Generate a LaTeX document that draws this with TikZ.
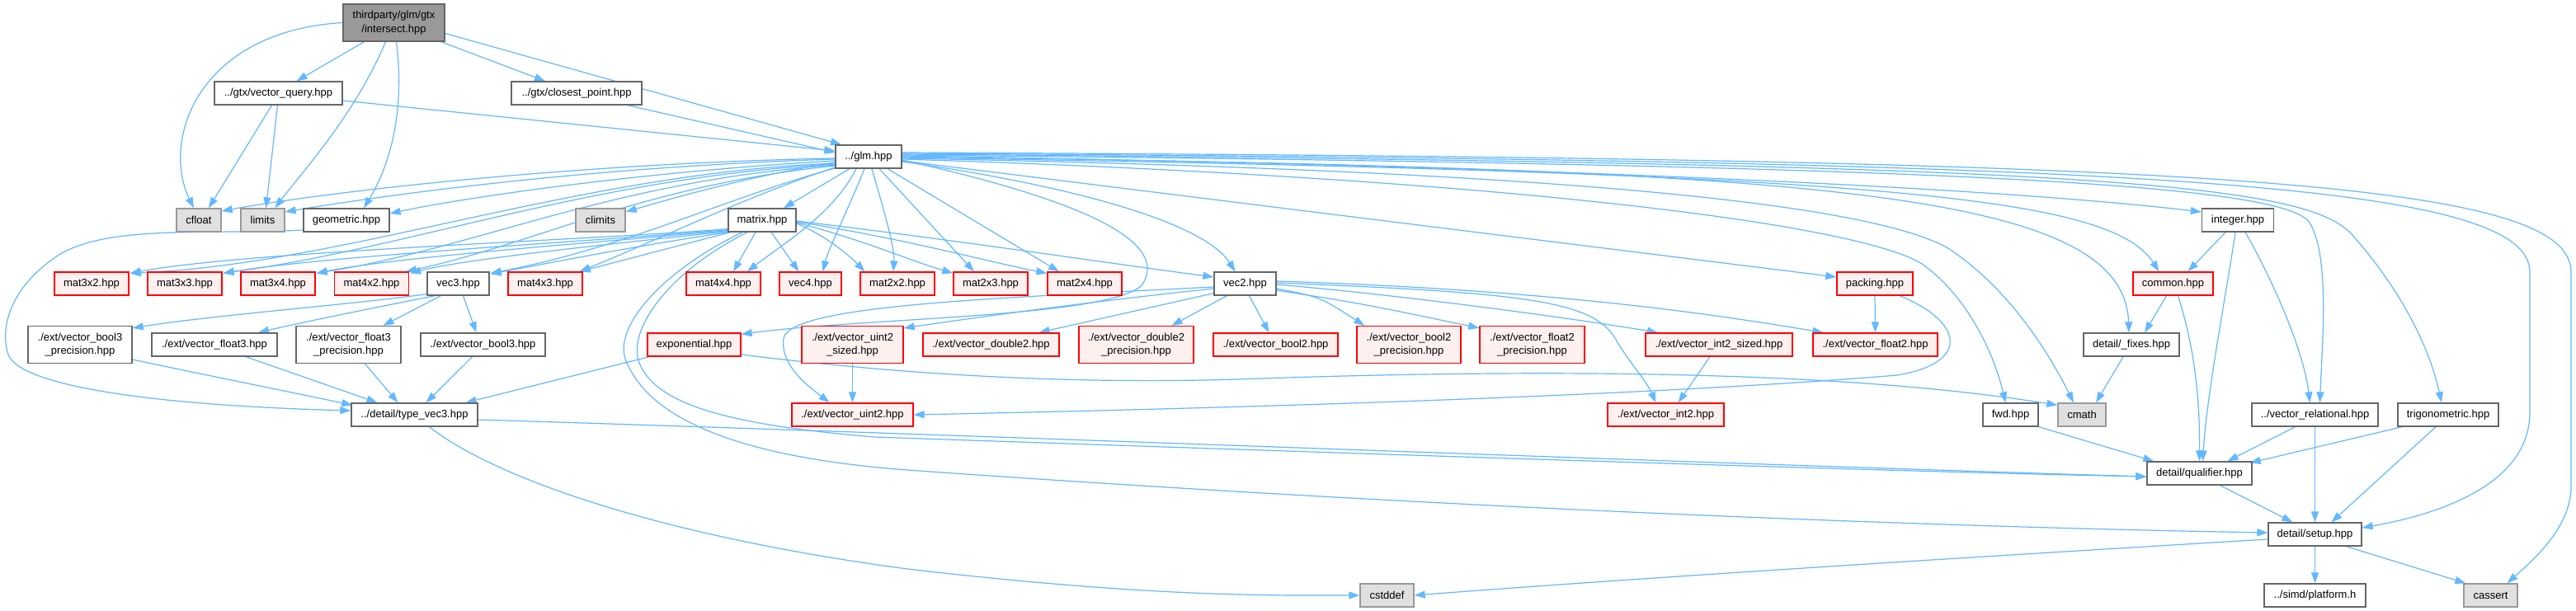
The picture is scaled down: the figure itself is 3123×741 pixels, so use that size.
\documentclass[tikz,border=0pt]{standalone}
\usepackage{fontspec}
\newfontfamily\lsans{Liberation Sans}
\usetikzlibrary{calc,arrows.meta,backgrounds}
\definecolor{edgec}{HTML}{63B8FF}
\definecolor{rootfill}{HTML}{999999}
\definecolor{rootdraw}{HTML}{666666}
\definecolor{normdraw}{HTML}{666666}
\definecolor{redfill}{HTML}{FFF0F0}
\definecolor{grayfill}{HTML}{E0E0E0}
\definecolor{graydraw}{HTML}{999999}
\tikzset{
  base/.style={rectangle, inner sep=0pt, line width=1.3pt, minimum height=28pt,
    font=\lsans\fontsize{13}{16.5}\selectfont, align=center, text=black},
  root/.style={base, draw=rootdraw, fill=rootfill, minimum height=45pt},
  wn/.style={base, draw=normdraw, fill=white},
  rn/.style={base, draw=red, fill=redfill},
  gn/.style={base, draw=graydraw, fill=grayfill},
  two/.style={minimum height=45pt},
  edg/.style={draw=edgec, line width=1.2pt, -{Triangle[length=13pt,width=9pt]}},
}
\begin{document}
\begin{tikzpicture}[x=1pt,y=-1pt]
\useasboundingbox (0,0) rectangle (3123,741);
% rank 0-3
\node[root, minimum width=123pt] (isect) at (477.5,27.5) {thirdparty/glm/gtx\\/intersect.hpp};
\node[wn, minimum width=155pt] (vq) at (337.5,113) {../gtx/vector\_query.hpp};
\node[wn, minimum width=158pt] (cp) at (699,113) {../gtx/closest\_point.hpp};
\node[wn, minimum width=80pt] (glm) at (1053,190) {../glm.hpp};
\node[gn, minimum width=54pt] (cfloat) at (241,267) {cfloat};
\node[gn, minimum width=53pt] (limits) at (318.5,267) {limits};
\node[wn, minimum width=104pt] (geom) at (420,267) {geometric.hpp};
\node[gn, minimum width=60pt] (climits) at (728,267) {climits};
\node[wn, minimum width=82pt] (matrix) at (924,267) {matrix.hpp};
\node[wn, minimum width=87pt] (integer) at (2713,267) {integer.hpp};
% rank 4
\node[rn, minimum width=90pt] (m32) at (111,344) {mat3x2.hpp};
\node[rn, minimum width=90pt] (m33) at (224,344) {mat3x3.hpp};
\node[rn, minimum width=90pt] (m34) at (337,344) {mat3x4.hpp};
\node[rn, minimum width=90pt] (m42) at (450.5,344) {mat4x2.hpp};
\node[wn, minimum width=75pt] (vec3) at (555.5,344) {vec3.hpp};
\node[rn, minimum width=90pt] (m43) at (661,344) {mat4x3.hpp};
\node[rn, minimum width=90pt] (m44) at (877,344) {mat4x4.hpp};
\node[rn, minimum width=75pt] (vec4) at (982.5,344) {vec4.hpp};
\node[rn, minimum width=90pt] (m22) at (1088,344) {mat2x2.hpp};
\node[rn, minimum width=90pt] (m23) at (1201,344) {mat2x3.hpp};
\node[rn, minimum width=90pt] (m24) at (1315,344) {mat2x4.hpp};
\node[wn, minimum width=75pt] (vec2) at (1509.5,344) {vec2.hpp};
\node[rn, minimum width=92pt] (packing) at (2273,344) {packing.hpp};
\node[rn, minimum width=97pt] (common) at (2634.5,344) {common.hpp};
% rank 5
\node[wn, two, minimum width=126pt] (b3p) at (97,418) {./ext/vector\_bool3\\\_precision.hpp};
\node[wn, minimum width=152pt] (f3) at (260,418) {./ext/vector\_float3.hpp};
\node[wn, two, minimum width=127pt] (f3p) at (422.5,418) {./ext/vector\_float3\\\_precision.hpp};
\node[wn, minimum width=151pt] (b3) at (585.5,418) {./ext/vector\_bool3.hpp};
\node[rn, minimum width=113pt] (expo) at (841.5,418) {exponential.hpp};
\node[rn, two, minimum width=123pt] (u2s) at (1033.5,418) {./ext/vector\_uint2\\\_sized.hpp};
\node[rn, minimum width=165pt] (d2) at (1201.5,418) {./ext/vector\_double2.hpp};
\node[rn, two, minimum width=139pt] (d2p) at (1377.5,418) {./ext/vector\_double2\\\_precision.hpp};
\node[rn, minimum width=151pt] (b2) at (1546.5,418) {./ext/vector\_bool2.hpp};
\node[rn, two, minimum width=126pt] (b2p) at (1708,418) {./ext/vector\_bool2\\\_precision.hpp};
\node[rn, two, minimum width=127pt] (f2p) at (1857.5,418) {./ext/vector\_float2\\\_precision.hpp};
\node[rn, minimum width=178pt] (i2s) at (2084,418) {./ext/vector\_int2\_sized.hpp};
\node[rn, minimum width=151pt] (f2) at (2273.5,418) {./ext/vector\_float2.hpp};
\node[wn, minimum width=116pt] (fixes) at (2584,418) {detail/\_fixes.hpp};
% rank 6
\node[wn, minimum width=153pt] (tv3) at (502.5,503) {../detail/type\_vec3.hpp};
\node[rn, minimum width=147pt] (u2) at (1033.5,503) {./ext/vector\_uint2.hpp};
\node[rn, minimum width=141pt] (i2) at (2019.5,503) {./ext/vector\_int2.hpp};
\node[wn, minimum width=67pt] (fwd) at (2437.5,503) {fwd.hpp};
\node[gn, minimum width=58pt] (cmath) at (2524,503) {cmath};
\node[wn, minimum width=153pt] (vrel) at (2806.5,503) {../vector\_relational.hpp};
\node[wn, minimum width=122pt] (trig) at (2968,503) {trigonometric.hpp};
% rank 7-9
\node[wn, minimum width=127pt] (qual) at (2666.5,574) {detail/qualifier.hpp};
\node[wn, minimum width=113pt] (setup) at (2806.5,648) {detail/setup.hpp};
\node[gn, minimum width=65pt] (cstddef) at (1681.5,722) {cstddef};
\node[wn, minimum width=123pt] (platform) at (2806.5,722) {../simd/platform.h};
\node[gn, minimum width=65pt] (cassert) at (3019.5,722) {cassert};

\begin{scope}[on background layer]
\fill[white] (0,0) rectangle (3123,741);
% intersect
\draw[edg] (isect.west) .. controls (240,38) and (195,170) .. ($(cfloat.north)+(-6,0)$);
\draw[edg] ($(isect.south)+(-36,0)$) -- ($(vq.north)+(22,0)$);
\draw[edg] ($(isect.south)+(-10,0)$) .. controls (430,140) and (365,210) .. ($(limits.north)+(15,0)$);
\draw[edg] ($(isect.south)+(3,0)$) .. controls (492,140) and (470,205) .. ($(geom.north)+(21,0)$);
\draw[edg] ($(isect.south east)+(-5,0)$) -- ($(cp.north)+(-38,0)$);
\draw[edg] ($(isect.east)+(0,13)$) -- ($(glm.north)+(-33,0)$);
% vector_query, closest_point
\draw[edg] ($(vq.south)+(-8,0)$) -- ($(cfloat.north)+(12,0)$);
\draw[edg] ($(vq.south)+(-1,0)$) -- ($(limits.north)+(4,0)$);
\draw[edg] ($(vq.east)+(0,9)$) -- ($(glm.west)+(0,-7)$);
\draw[edg] ($(cp.south)+(62,0)$) -- ($(glm.west)+(0,-5)$);
% glm to the left
\draw[edg] ($(glm.west)+(0,2)$) .. controls (700,198) and (400,232) .. ($(cfloat.east)+(0,-11)$);
\draw[edg] ($(glm.west)+(0,3)$) .. controls (720,202) and (470,236) .. ($(limits.east)+(0,-10)$);
\draw[edg] ($(glm.west)+(0,5)$) .. controls (780,208) and (560,240) .. ($(geom.east)+(0,-8)$);
\draw[edg] ($(glm.west)+(0,7)$) .. controls (900,215) and (800,245) .. ($(climits.east)+(0,-10)$);
\draw[edg] ($(glm.south)+(-23,0)$) -- ($(matrix.north)+(26,0)$);
\draw[edg] ($(glm.west)+(0,8)$) .. controls (700,210) and (420,320) .. ($(m32.north east)+(1,2)$);
\draw[edg] ($(glm.west)+(0,9)$) .. controls (720,215) and (500,300) .. ($(m33.north east)+(1,2)$);
\draw[edg] ($(glm.west)+(0,10)$) .. controls (740,220) and (580,300) .. ($(m34.north east)+(1,2)$);
\draw[edg] ($(glm.west)+(0,11)$) .. controls (780,225) and (650,295) .. ($(m42.north east)+(-4,0)$);
\draw[edg] ($(glm.west)+(0,14)$) .. controls (880,240) and (760,300) .. ($(vec3.north east)+(1,2)$);
\draw[edg] ($(glm.west)+(0,13)$) .. controls (900,240) and (800,290) .. ($(m43.north east)+(-4,0)$);
\draw[edg] ($(glm.south)+(-15,0)$) .. controls (1010,260) and (950,295) .. ($(m44.north)+(29,0)$);
\draw[edg] ($(glm.south)+(-5,0)$) .. controls (1030,250) and (1005,300) .. ($(vec4.north)+(15,0)$);
\draw[edg] ($(glm.south)+(4,0)$) .. controls (1070,250) and (1085,300) .. ($(m22.north)+(-5,0)$);
\draw[edg] ($(glm.south)+(13,0)$) -- ($(m23.north)+(-20,0)$);
\draw[edg] ($(glm.south)+(23,0)$) -- ($(m24.north)+(-31,0)$);
% glm to the right
\draw[edg] ($(glm.east)+(0,6)$) .. controls (1300,225) and (1460,270) .. ($(vec2.north)+(-12,0)$);
\draw[edg] ($(glm.east)+(0,4)$) .. controls (1300,240) and (1420,290) .. (1385,345) .. controls (1350,385) and (1050,385) .. ($(expo.north east)+(0,2)$);
\draw[edg] ($(glm.east)+(0,5)$) -- ($(packing.west)+(0,-8)$);
\draw[edg] ($(glm.east)+(0,-1)$) .. controls (1800,200) and (2400,225) .. ($(integer.west)+(0,-10)$);
\draw[edg] ($(glm.east)+(0,1)$) .. controls (2300,210) and (2560,240) .. ($(common.north)+(-17,0)$);
\draw[edg] ($(glm.east)+(0,0)$) .. controls (2200,205) and (2575,230) .. ($(fixes.north)+(-3,0)$);
\draw[edg] ($(glm.east)+(0,2)$) .. controls (1800,205) and (2250,240) .. (2360,300) .. controls (2430,345) and (2480,420) .. ($(cmath.north)+(-10,0)$);
\draw[edg] ($(glm.east)+(0,3)$) .. controls (1800,215) and (2250,270) .. (2330,320) .. controls (2380,355) and (2415,420) .. ($(fwd.north)+(-6,0)$);
\draw[edg] ($(glm.east)+(0,-2)$) .. controls (2400,200) and (2770,225) .. (2800,270) .. controls (2825,310) and (2815,420) .. ($(vrel.north)+(6,0)$);
\draw[edg] ($(glm.east)+(0,-3)$) .. controls (2500,198) and (2790,220) .. (2850,283) .. controls (2910,350) and (2945,420) .. ($(trig.north)+(-8,0)$);
\draw[edg] ($(glm.east)+(0,-4)$) .. controls (2600,195) and (3067,220) .. (3067,330) -- (3067,500) .. controls (3067,590) and (2950,625) .. ($(setup.east)+(0,-8)$);
\draw[edg] ($(glm.east)+(0,-5)$) .. controls (2700,192) and (3117,220) .. (3117,330) -- (3117,590) .. controls (3117,640) and (3070,680) .. ($(cassert.north)+(20,0)$);
% geometric
\draw[edg] ($(geom.west)+(0,12)$) .. controls (250,285) and (130,272) .. (70,310) .. controls (10,350) and (0,400) .. (10,430) .. controls (25,470) and (200,492) .. ($(tv3.west)+(0,-5)$);
% matrix
\draw[edg] ($(matrix.south west)+(0,-4)$) .. controls (700,292) and (300,305) .. ($(m32.north east)+(1,2)$);
\draw[edg] ($(matrix.south west)+(0,-3)$) .. controls (700,294) and (400,310) .. ($(m33.north east)+(1,2)$);
\draw[edg] ($(matrix.south west)+(0,-2)$) .. controls (700,296) and (480,312) .. ($(m34.north east)+(1,2)$);
\draw[edg] ($(matrix.south west)+(0,-1)$) .. controls (720,298) and (560,315) .. ($(m42.north east)+(1,2)$);
\draw[edg] ($(matrix.south west)+(0,0)$) .. controls (760,300) and (650,322) .. ($(vec3.north east)+(1,3)$);
\draw[edg] ($(matrix.south west)+(3,0)$) -- ($(m43.north east)+(-4,0)$);
\draw[edg] ($(matrix.south)+(-8,0)$) -- ($(m44.north)+(12,0)$);
\draw[edg] ($(matrix.south)+(11,0)$) -- ($(vec4.north)+(-14,0)$);
\draw[edg] ($(matrix.east)+(0,4)$) .. controls (1000,285) and (1030,310) .. ($(m22.north west)+(6,0)$);
\draw[edg] ($(matrix.east)+(0,3)$) .. controls (1050,292) and (1100,315) .. ($(m23.north west)+(0,2)$);
\draw[edg] ($(matrix.east)+(0,2)$) .. controls (1100,290) and (1200,318) .. ($(m24.north west)+(0,2)$);
\draw[edg] ($(matrix.east)+(0,1)$) .. controls (1150,290) and (1350,320) .. ($(vec2.west)+(0,-8)$);
\draw[edg] ($(matrix.south)+(-24,0)$) .. controls (800,330) and (740,400) .. (760,440) .. controls (790,510) and (900,555) .. (1100,570) .. controls (1800,620) and (2400,640) .. ($(setup.west)+(0,-2)$);
\draw[edg] ($(matrix.south)+(-18,0)$) .. controls (810,330) and (760,400) .. (775,440) .. controls (795,490) and (880,515) .. (1060,530) .. controls (1700,552) and (2300,572) .. ($(qual.west)+(0,4)$);
% vec3
\draw[edg] ($(vec3.south west)+(0,-2)$) .. controls (420,370) and (260,382) .. ($(b3p.north east)+(0,3)$);
\draw[edg] ($(vec3.south)+(-28,0)$) .. controls (460,372) and (370,390) .. ($(f3.north)+(53,0)$);
\draw[edg] ($(vec3.south)+(-21,0)$) -- ($(f3p.north)+(42,0)$);
\draw[edg] ($(vec3.south)+(6,0)$) -- ($(b3.north)+(-8,0)$);
% to type_vec3
\draw[edg] ($(b3p.east)+(0,18)$) .. controls (250,455) and (350,475) .. ($(tv3.north west)+(2,3)$);
\draw[edg] ($(f3.south)+(38,0)$) -- ($(tv3.north)+(-45,0)$);
\draw[edg] ($(f3p.south)+(20,0)$) -- ($(tv3.north)+(-20,0)$);
\draw[edg] ($(b3.south)+(-13,0)$) -- ($(tv3.north)+(14,0)$);
% exponential
\draw[edg] ($(expo.south west)+(3,0)$) -- ($(tv3.north)+(62,0)$);
\draw[edg] ($(expo.east)+(0,12)$) .. controls (1100,455) and (1300,466) .. (1500,460) .. controls (2000,442) and (2300,460) .. ($(cmath.north west)+(0,3)$);
% type_vec3
\draw[edg] ($(tv3.east)+(0,6)$) .. controls (1200,528) and (2000,560) .. ($(qual.west)+(0,4)$);
\draw[edg] ($(tv3.south)+(18,0)$) .. controls (600,580) and (800,650) .. (1100,690) .. controls (1400,725) and (1550,722) .. (cstddef.west);
% vec2
\draw[edg] ($(vec2.south)+(5,0)$) -- ($(b2.north)+(-8,0)$);
\draw[edg] ($(vec2.south)+(-22,0)$) -- ($(d2p.north)+(43,0)$);
\draw[edg] ($(vec2.south west)+(0,-3)$) -- ($(d2.north)+(58,0)$);
\draw[edg] ($(vec2.west)+(0,6)$) .. controls (1300,368) and (1150,390) .. ($(u2s.north east)+(0,3)$);
\draw[edg] ($(vec2.west)+(0,4)$) .. controls (1200,362) and (960,370) .. (950,410) .. controls (945,445) and (985,472) .. ($(u2.north)+(-28,0)$);
\draw[edg] ($(vec2.east)+(0,6)$) .. controls (1600,360) .. ($(b2p.north west)+(10,0)$);
\draw[edg] ($(vec2.east)+(0,8)$) .. controls (1650,368) .. ($(f2p.north west)+(0,3)$);
\draw[edg] ($(vec2.east)+(0,1)$) .. controls (1700,358) and (1900,385) .. ($(i2s.north)+(-74,0)$);
\draw[edg] ($(vec2.east)+(0,-1)$) .. controls (1850,355) and (1930,365) .. (1958,410) .. controls (1975,440) and (1995,460) .. ($(i2.north)+(-12,0)$);
\draw[edg] ($(vec2.east)+(0,-3)$) .. controls (1900,352) and (2100,385) .. ($(f2.north)+(-63,0)$);
% sized
\draw[edg] (u2s.south) -- (u2.north);
\draw[edg] ($(i2s.south)+(-11,0)$) -- ($(i2.north)+(15,0)$);
% packing
\draw[edg] (packing.south) -- (f2.north);
\draw[edg] ($(packing.south)+(30,0)$) .. controls (2380,390) and (2390,440) .. (2300,455) .. controls (2000,480) and (1500,495) .. (u2.east);
% integer, common
\draw[edg] ($(integer.south)+(-15,0)$) -- ($(common.north)+(18,0)$);
\draw[edg] ($(integer.south)+(-3,0)$) .. controls (2700,350) and (2675,480) .. ($(qual.north)+(4,0)$);
\draw[edg] ($(integer.south)+(9,0)$) .. controls (2750,330) and (2792,420) .. ($(vrel.north)+(-6,0)$);
\draw[edg] ($(common.south)+(-8,0)$) -- ($(fixes.north)+(16,0)$);
\draw[edg] ($(common.south)+(6,0)$) .. controls (2660,420) and (2667,480) .. (qual.north);
\draw[edg] ($(fixes.south)+(-10,0)$) -- ($(cmath.north)+(17,0)$);
% lower right
\draw[edg] (fwd.south east) -- ($(qual.north west)+(9,0)$);
\draw[edg] ($(vrel.south)+(-24,0)$) -- ($(qual.north)+(34,0)$);
\draw[edg] (vrel.south) -- (setup.north);
\draw[edg] ($(trig.south west)+(6,0)$) -- ($(qual.north east)+(-3,2)$);
\draw[edg] ($(trig.south)+(-15,0)$) -- ($(setup.north)+(20,0)$);
\draw[edg] ($(qual.south)+(25,0)$) -- ($(setup.north)+(-27,0)$);
\draw[edg] (setup.south) -- (platform.north);
\draw[edg] ($(setup.south)+(38,0)$) -- ($(cassert.north west)+(3,0)$);
\draw[edg] ($(setup.west)+(0,6)$) .. controls (2400,675) and (2000,700) .. (cstddef.east);
\end{scope}
\end{tikzpicture}
\end{document}
